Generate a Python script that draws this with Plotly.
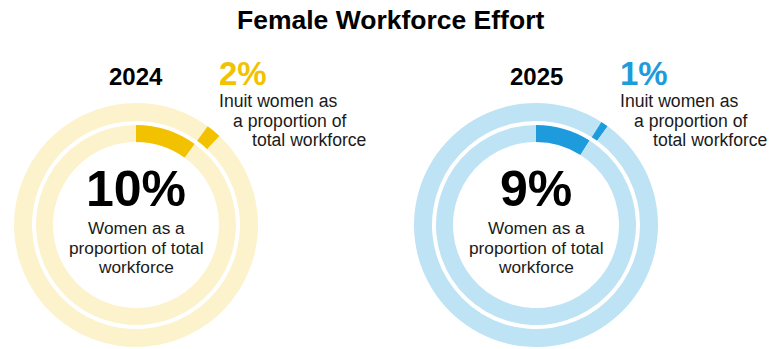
import plotly.graph_objects as go

# ---- data ----
years = ["2024", "2025"]
women_pct = [10, 9]          # women as % of total workforce (inner ring)
inuit_pct = [2, 1]           # Inuit women as % of total workforce (outer ring)
dark_colors = ["#F2C200", "#1E9BDC"]
light_colors = ["#FCF2CC", "#BEE3F4"]
title_text = "Female Workforce Effort"
inner_label = ["Women as a", "proportion of total", "workforce"]
outer_label = ["Inuit women as", "a proportion of", "total workforce"]

W, H = 781, 349
centers_x = [136, 536]
center_y = 225
R_OUT, R_OUT_IN = 122, 104
R_IN, R_IN_IN = 100, 83

def dom(cx, cy, r):
    return dict(x=[(cx - r) / W, (cx + r) / W],
                y=[(H - (cy + r)) / H, (H - (cy - r)) / H])

fig = go.Figure()
for i in range(len(years)):
    w, inu = women_pct[i], inuit_pct[i]
    # outer ring: Inuit segment placed after the women segment
    fig.add_trace(go.Pie(
        values=[w, inu, 100 - w - inu],
        marker=dict(colors=[light_colors[i], dark_colors[i], light_colors[i]],
                    line=dict(width=0)),
        hole=R_OUT_IN / R_OUT, sort=False, direction="clockwise", rotation=0,
        textinfo="none", hoverinfo="skip", showlegend=False,
        domain=dom(centers_x[i], center_y, R_OUT)))
    # inner ring
    fig.add_trace(go.Pie(
        values=[w, 100 - w],
        marker=dict(colors=[dark_colors[i], light_colors[i]], line=dict(width=0)),
        hole=R_IN_IN / R_IN, sort=False, direction="clockwise", rotation=0,
        textinfo="none", hoverinfo="skip", showlegend=False,
        domain=dom(centers_x[i], center_y, R_IN)))

FONT = "Liberation Sans, Arial, sans-serif"

def ann(text, x, y, size, color="#000000", bold=False, xanchor="center"):
    t = f"<b>{text}</b>" if bold else text
    fig.add_annotation(text=t, x=x / W, y=1 - y / H, xref="paper", yref="paper",
                       xanchor=xanchor, yanchor="middle", showarrow=False,
                       font=dict(family=FONT, size=size, color=color))

ann(title_text, 391, 20, 26.5, bold=True)

pct_x = [217, 618]
sub_offsets = [0, 14, 33]
sub_y = [101, 121, 140]
inner_y = [228, 248, 267]
for i in range(len(years)):
    cx = centers_x[i]
    ann(years[i], cx, 76, 24, bold=True)
    ann(f"{inuit_pct[i]}%", pct_x[i], 73, 33, color=dark_colors[i], bold=True, xanchor="left")
    for line, off, yy in zip(outer_label, sub_offsets, sub_y):
        ann(line, pct_x[i] + off, yy, 17.6, color="#1a1a1a", xanchor="left")
    ann(f"{women_pct[i]}%", cx, 189, 50, bold=True)
    for line, yy in zip(inner_label, inner_y):
        ann(line, cx, yy, 17.3, color="#1a1a1a")

fig.update_layout(width=W, height=H, margin=dict(l=0, r=0, t=0, b=0),
                  paper_bgcolor="white", plot_bgcolor="white")
fig.write_html("out.html")
